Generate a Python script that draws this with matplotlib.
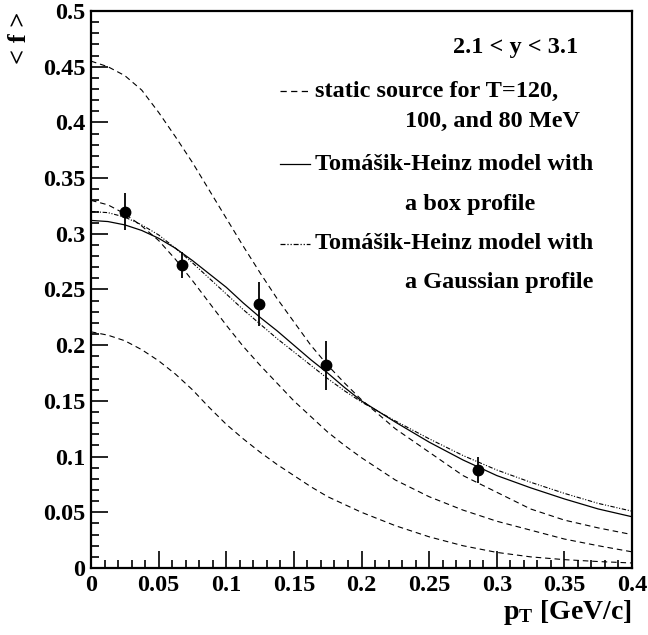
import matplotlib
matplotlib.use("Agg")
import matplotlib.pyplot as plt
from matplotlib.ticker import MultipleLocator

# =========== Data =====================================

pt_grid = [0.0, 0.0125, 0.025, 0.0375, 0.05, 0.0625, 0.075, 0.0875, 0.1,
           0.1125, 0.125, 0.1375, 0.15, 0.1625, 0.175, 0.1875, 0.2,
           0.225, 0.25, 0.275, 0.3, 0.325, 0.35, 0.375, 0.4]

static_T120 = [0.455, 0.450, 0.442, 0.429, 0.409, 0.387, 0.364, 0.339, 0.314,
               0.289, 0.265, 0.242, 0.221, 0.200, 0.182, 0.166, 0.151,
               0.125, 0.104, 0.083, 0.068, 0.053, 0.043, 0.036, 0.030]
static_T100 = [0.330, 0.326, 0.318, 0.307, 0.294, 0.277, 0.258, 0.238, 0.218,
               0.199, 0.182, 0.166, 0.150, 0.136, 0.122, 0.110, 0.099,
               0.079, 0.064, 0.052, 0.042, 0.034, 0.026, 0.020, 0.0145]
static_T80 = [0.212, 0.209, 0.204, 0.196, 0.186, 0.174, 0.160, 0.144, 0.129,
              0.116, 0.104, 0.093, 0.083, 0.073, 0.064, 0.057, 0.050,
              0.038, 0.028, 0.020, 0.014, 0.010, 0.0075, 0.0058, 0.0045]
box_profile = [0.312, 0.311, 0.308, 0.303, 0.296, 0.287, 0.276, 0.264, 0.252,
               0.238, 0.225, 0.213, 0.200, 0.187, 0.175, 0.162, 0.150,
               0.131, 0.113, 0.097, 0.083, 0.072, 0.062, 0.053, 0.046]
gauss_profile = [0.320, 0.319, 0.315, 0.308, 0.299, 0.287, 0.274, 0.260, 0.246,
                 0.232, 0.219, 0.206, 0.194, 0.182, 0.170, 0.159, 0.149,
                 0.132, 0.116, 0.101, 0.088, 0.077, 0.067, 0.058, 0.051]

data_pt = [0.025, 0.067, 0.124, 0.174, 0.286]
data_f = [0.320, 0.272, 0.237, 0.182, 0.088]
data_err = [0.017, 0.012, 0.020, 0.022, 0.012]

DASH = (0, (5, 3.5))
DASHDOT = (0, (4, 1.5, 1, 1.5, 1, 1.5))

legend_rows = [
    ("static source for T=120,", DASH),
    ("100, and 80 MeV", None),
    ("Tomášik-Heinz model with", "-"),
    ("a box profile", None),
    ("Tomášik-Heinz model with", DASHDOT),
    ("a Gaussian profile", None),
]

# =========== Figure ============

plt.rcParams["font.family"] = ["Liberation Serif", "DejaVu Serif"]
plt.rcParams["font.weight"] = "bold"
plt.rcParams["mathtext.fontset"] = "custom"
plt.rcParams["mathtext.rm"] = "Liberation Serif:bold"
plt.rcParams["mathtext.it"] = "Liberation Serif:bold"
plt.rcParams["mathtext.bf"] = "Liberation Serif:bold"

fig = plt.figure(figsize=(6.48, 6.35), dpi=100)
ax = fig.add_axes([91 / 648, 67 / 635, 541 / 648, 557 / 635])

for curve in (static_T120, static_T100, static_T80):
    ax.plot(pt_grid, curve, color="black", lw=0.8, linestyle=DASH)
ax.plot(pt_grid, box_profile, color="black", lw=0.9, linestyle="-")
ax.plot(pt_grid, gauss_profile, color="black", lw=0.8, linestyle=DASHDOT)

ax.errorbar(data_pt, data_f, yerr=data_err, fmt="o", color="black",
            markersize=7.5, elinewidth=1.3, capsize=0)

ax.set_xlim(0, 0.4)
ax.set_ylim(0, 0.5)
ax.xaxis.set_major_locator(MultipleLocator(0.05))
ax.xaxis.set_minor_locator(MultipleLocator(0.01))
ax.yaxis.set_major_locator(MultipleLocator(0.05))
ax.yaxis.set_minor_locator(MultipleLocator(0.01))
ax.tick_params(which="both", direction="in", top=False, right=False,
               labelsize=17.5, width=1.2)
ax.tick_params(which="major", length=12)
ax.tick_params(which="minor", length=6)
ax.tick_params(axis="x", pad=5)
ax.tick_params(axis="y", pad=4)
ax.xaxis.set_major_formatter(plt.FuncFormatter(lambda v, p: f"{v:g}"))
ax.yaxis.set_major_formatter(plt.FuncFormatter(lambda v, p: f"{v:g}"))
for s in ax.spines.values():
    s.set_linewidth(1.6)

fig.text(20 / 648, 1 - 38 / 635, "< f >", rotation=90, fontsize=19,
         fontweight="bold", ha="center", va="center")
fig.text(632 / 648, 1 - 619 / 635, r"$\mathrm{p_T}$ [GeV/c]", fontsize=20,
         fontweight="bold", ha="right", va="baseline")

# legend block
ax.text(0.669, 0.935, "2.1 < y < 3.1", transform=ax.transAxes,
        fontsize=17.5, fontweight="bold", va="center", ha="left")
row_y = [0.856, 0.801, 0.725, 0.652, 0.582, 0.512]
for (label, style), y in zip(legend_rows, row_y):
    if style is None:
        ax.text(0.580, y, label, transform=ax.transAxes, fontsize=17.5,
                fontweight="bold", va="center", ha="left")
    else:
        ax.plot([0.349, 0.405], [y, y], transform=ax.transAxes,
                color="black", lw=0.9, linestyle=style)
        ax.text(0.414, y, label, transform=ax.transAxes, fontsize=17.5,
                fontweight="bold", va="center", ha="left")

fig.savefig("out.png", dpi=100)
